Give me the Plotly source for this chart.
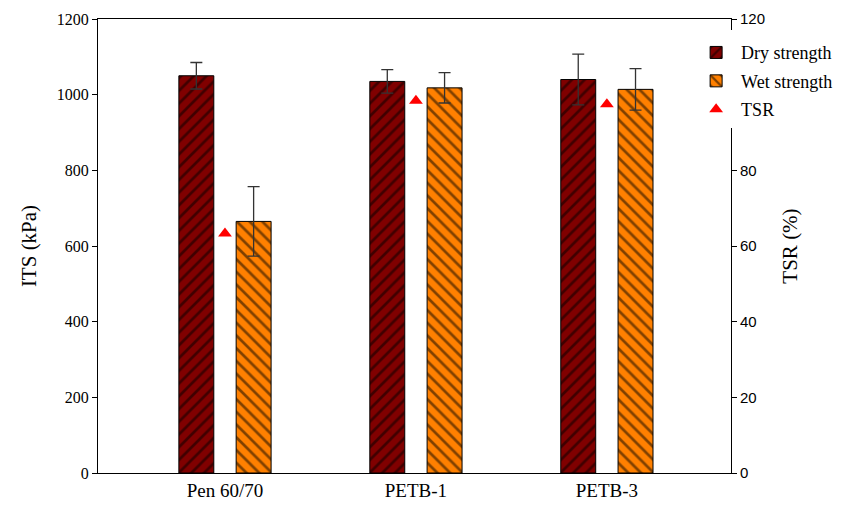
import plotly.graph_objects as go

categories = ["Pen 60/70", "PETB-1", "PETB-3"]
dry_strength = [1050, 1035, 1040]
dry_err = [35, 31, 67]
wet_strength = [665, 1018, 1014]
wet_err = [92, 40, 55]
tsr = [63.3, 98.4, 97.5]
tsr_ticks = [0, 20, 40, 60, 80, 120]

x_idx = list(range(len(categories)))
offset = 0.15
bar_w = 0.183

serif = "Liberation Serif"
sans = "Liberation Sans"

fig = go.Figure()
fig.add_trace(go.Bar(
    x=[i - offset for i in x_idx], y=dry_strength, width=bar_w, name="Dry strength",
    legendgroup="dry",
    marker=dict(color="#800000", line=dict(color="black", width=1),
                pattern=dict(shape="/", fgcolor="black", bgcolor="#800000", size=9, solidity=0.3,
                             fillmode="overlay")),
    error_y=dict(type="data", array=dry_err, color="#333333", thickness=1.3, width=6),
))
fig.add_trace(go.Bar(
    x=[i + offset for i in x_idx], y=wet_strength, width=bar_w, name="Wet strength",
    legendgroup="wet",
    marker=dict(color="#FF8000", line=dict(color="black", width=1),
                pattern=dict(shape="\\", fgcolor="black", bgcolor="#FF8000", size=9, solidity=0.3,
                             fillmode="overlay")),
    error_y=dict(type="data", array=wet_err, color="#333333", thickness=1.3, width=6),
))
fig.add_trace(go.Scatter(
    x=x_idx, y=tsr, yaxis="y2", mode="markers", name="TSR", legendgroup="tsr",
    marker=dict(symbol="triangle-up", color="red", size=12),
))

fig.update_layout(
    width=855, height=506,
    margin=dict(l=98, r=124, t=19, b=33, autoexpand=False),
    paper_bgcolor="white", plot_bgcolor="white",
    barmode="overlay",
    font=dict(family=serif, color="black"),
    xaxis=dict(range=[-0.665, 2.65], tickvals=x_idx, ticktext=categories,
               showline=True, linecolor="black", linewidth=1, mirror=True,
               ticks="", showgrid=False, zeroline=False, automargin=False,
               tickfont=dict(family=serif, size=19)),
    yaxis=dict(range=[0, 1200], dtick=200, showline=True, linecolor="black", linewidth=1,
               ticks="outside", ticklen=5, tickcolor="black", showgrid=False, zeroline=False,
               automargin=False, tickfont=dict(family=serif, size=16),
               title=dict(text="ITS (kPa)", font=dict(family=serif, size=21), standoff=14)),
    yaxis2=dict(range=[0, 120], tickvals=tsr_ticks, overlaying="y", side="right",
                showline=True, linecolor="black", linewidth=1, automargin=False,
                ticks="outside", ticklen=5, tickcolor="black", showgrid=False, zeroline=False,
                tickfont=dict(family=sans, size=15),
                title=dict(text="TSR (%)", font=dict(family=serif, size=21), standoff=18)),
    legend=dict(x=0.937, y=0.975, xanchor="left", yanchor="top", bgcolor="white",
                borderwidth=0, font=dict(family=serif, size=18), itemwidth=40,
                tracegroupgap=2,
                title=dict(text=" ", font=dict(size=3))),
    showlegend=True,
)

fig.write_html("out.html")
